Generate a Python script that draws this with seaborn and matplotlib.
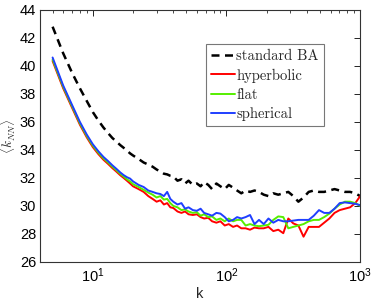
import matplotlib
matplotlib.use("Agg")
import matplotlib.pyplot as plt
import seaborn as sns
import pandas as pd
from matplotlib.ticker import LogLocator, NullFormatter, FixedLocator

k = [5, 6, 7, 8, 9, 10, 11, 12, 13, 14, 15, 16, 17, 18, 19, 20, 22, 24, 26, 28,
     30, 32, 34, 36, 38, 40, 43, 46, 49, 52, 56, 60, 64, 68, 73, 78, 84, 90, 97,
     104, 112, 120, 129, 139, 150, 162, 175, 190, 206, 224, 244, 266, 290, 316,
     345, 377, 412, 450, 492, 538, 588, 643, 703, 769, 841, 920, 1000]

standard_ba = [42.8, 40.9, 39.5, 38.4, 37.5, 36.7, 36.1, 35.6, 35.2, 34.85, 34.6,
               34.35, 34.15, 33.95, 33.75, 33.6, 33.35, 33.1, 32.95, 32.8, 32.6,
               32.45, 32.3, 32.25, 32.15, 32.1, 31.8, 31.9, 31.6, 31.8, 31.5, 31.6,
               31.4, 31.7, 31.5, 31.2, 31.6, 31.4, 31.2, 31.5, 31.3, 31.1, 30.9,
               31.1, 31.0, 31.1, 31.0, 30.8, 30.7, 30.9, 30.8, 30.9, 31.0, 30.7,
               30.3, 30.6, 31.0, 31.1, 31.0, 31.0, 31.1, 31.2, 31.1, 31.0, 31.0,
               30.9, 30.7]

hyperbolic = [40.35, 38.4, 37.0, 35.8, 34.9, 34.2, 33.7, 33.3, 33.0, 32.7, 32.45,
              32.2, 32.0, 31.8, 31.6, 31.4, 31.2, 31.0, 30.7, 30.5, 30.3, 30.4,
              30.1, 30.2, 29.9, 29.85, 29.6, 29.5, 29.6, 29.4, 29.35, 29.4, 29.2,
              29.1, 29.15, 28.9, 28.8, 28.9, 28.6, 28.7, 28.5, 28.6, 28.4, 28.4,
              28.3, 28.45, 28.4, 28.4, 28.5, 28.2, 28.3, 28.05, 29.1, 28.75, 28.6,
              27.8, 28.5, 28.5, 28.5, 28.8, 29.1, 29.5, 29.7, 29.8, 29.9, 30.2, 30.7]

flat = [40.45, 38.5, 37.1, 35.9, 35.0, 34.3, 33.8, 33.4, 33.1, 32.8, 32.55, 32.3,
        32.1, 31.9, 31.75, 31.55, 31.35, 31.15, 30.95, 30.8, 30.6, 30.7, 30.45,
        30.5, 30.2, 30.0, 29.9, 29.7, 29.75, 29.6, 29.5, 29.55, 29.3, 29.4, 29.2,
        29.25, 29.0, 29.1, 28.9, 29.1, 28.9, 29.0, 29.0, 28.6, 28.7, 28.6, 28.55,
        28.6, 28.65, 29.0, 29.25, 29.2, 28.4, 28.5, 28.6, 28.7, 28.9, 29.0, 29.0,
        29.2, 29.45, 29.8, 30.1, 30.3, 30.3, 30.2, 30.0]

spherical = [40.6, 38.6, 37.2, 36.0, 35.1, 34.4, 33.9, 33.5, 33.2, 32.9, 32.65,
             32.4, 32.2, 32.05, 31.95, 31.75, 31.5, 31.35, 31.1, 31.0, 30.9, 30.85,
             30.7, 31.0, 30.5, 30.3, 30.1, 30.2, 29.8, 29.9, 29.7, 29.65, 29.8,
             29.5, 29.4, 29.3, 29.5, 29.45, 29.2, 28.9, 29.0, 29.2, 29.1, 29.2,
             29.35, 28.7, 29.0, 28.7, 29.1, 28.8, 29.0, 28.9, 28.9, 28.95, 29.0,
             29.0, 29.0, 29.3, 29.7, 29.5, 29.5, 29.8, 30.2, 30.25, 30.2, 30.15,
             30.05]

labels = ["standard BA", "hyperbolic", "flat", "spherical"]
series = [standard_ba, hyperbolic, flat, spherical]
colors = ["black", "#ff0000", "#55ee00", "#1f3fff"]
yticks = [26, 28, 30, 32, 34, 36, 38, 40, 42, 44]

sns.set_style("white")
plt.rcParams["font.family"] = ["Liberation Sans", "DejaVu Sans"]
plt.rcParams["mathtext.fontset"] = "cm"

fig = plt.figure(figsize=(3.74, 3.0), dpi=100)
ax = fig.add_axes([0.106, 0.127, 0.857, 0.84])

for lab, vals, col in zip(labels, series, colors):
    df = pd.DataFrame({"k": k, "v": vals})
    if lab == "standard BA":
        sns.lineplot(data=df, x="k", y="v", ax=ax, color=col, lw=1.8,
                     linestyle=(0, (3.2, 2.2)), label=lab)
    else:
        sns.lineplot(data=df, x="k", y="v", ax=ax, color=col, lw=1.4, label=lab)

ax.set_xscale("log")
ax.set_xlim(4, 1000)
ax.set_ylim(26, 44)
ax.yaxis.set_major_locator(FixedLocator(yticks))
ax.xaxis.set_major_locator(LogLocator(base=10, numticks=10))
ax.xaxis.set_minor_locator(LogLocator(base=10, subs=range(2, 10), numticks=20))
ax.xaxis.set_minor_formatter(NullFormatter())

ax.tick_params(which="both", direction="in", top=True, right=True,
               labelsize=10.5, colors="black")
ax.tick_params(axis="y", pad=2.5)
ax.tick_params(which="major", length=4, width=0.6)
ax.tick_params(which="minor", length=2, width=0.5)
for sp in ax.spines.values():
    sp.set_color("#333333")
    sp.set_linewidth(0.8)

ax.set_xlabel("k", fontsize=10.5, labelpad=1)
ax.set_ylabel(r"$\langle k_{NN}\rangle$", fontsize=9.5)
ax.yaxis.set_label_coords(-0.066, 0.5)

leg = ax.legend(loc="upper left", bbox_to_anchor=(0.52, 0.865), borderaxespad=0,
                frameon=True, fancybox=False, handlelength=1.6, handletextpad=0.1,
                labelspacing=0.38, borderpad=0.35,
                prop={"family": "cmr10", "size": 10.5})
leg.get_frame().set_edgecolor("#555555")
leg.get_frame().set_linewidth(0.8)

fig.savefig("out.png", dpi=100)
